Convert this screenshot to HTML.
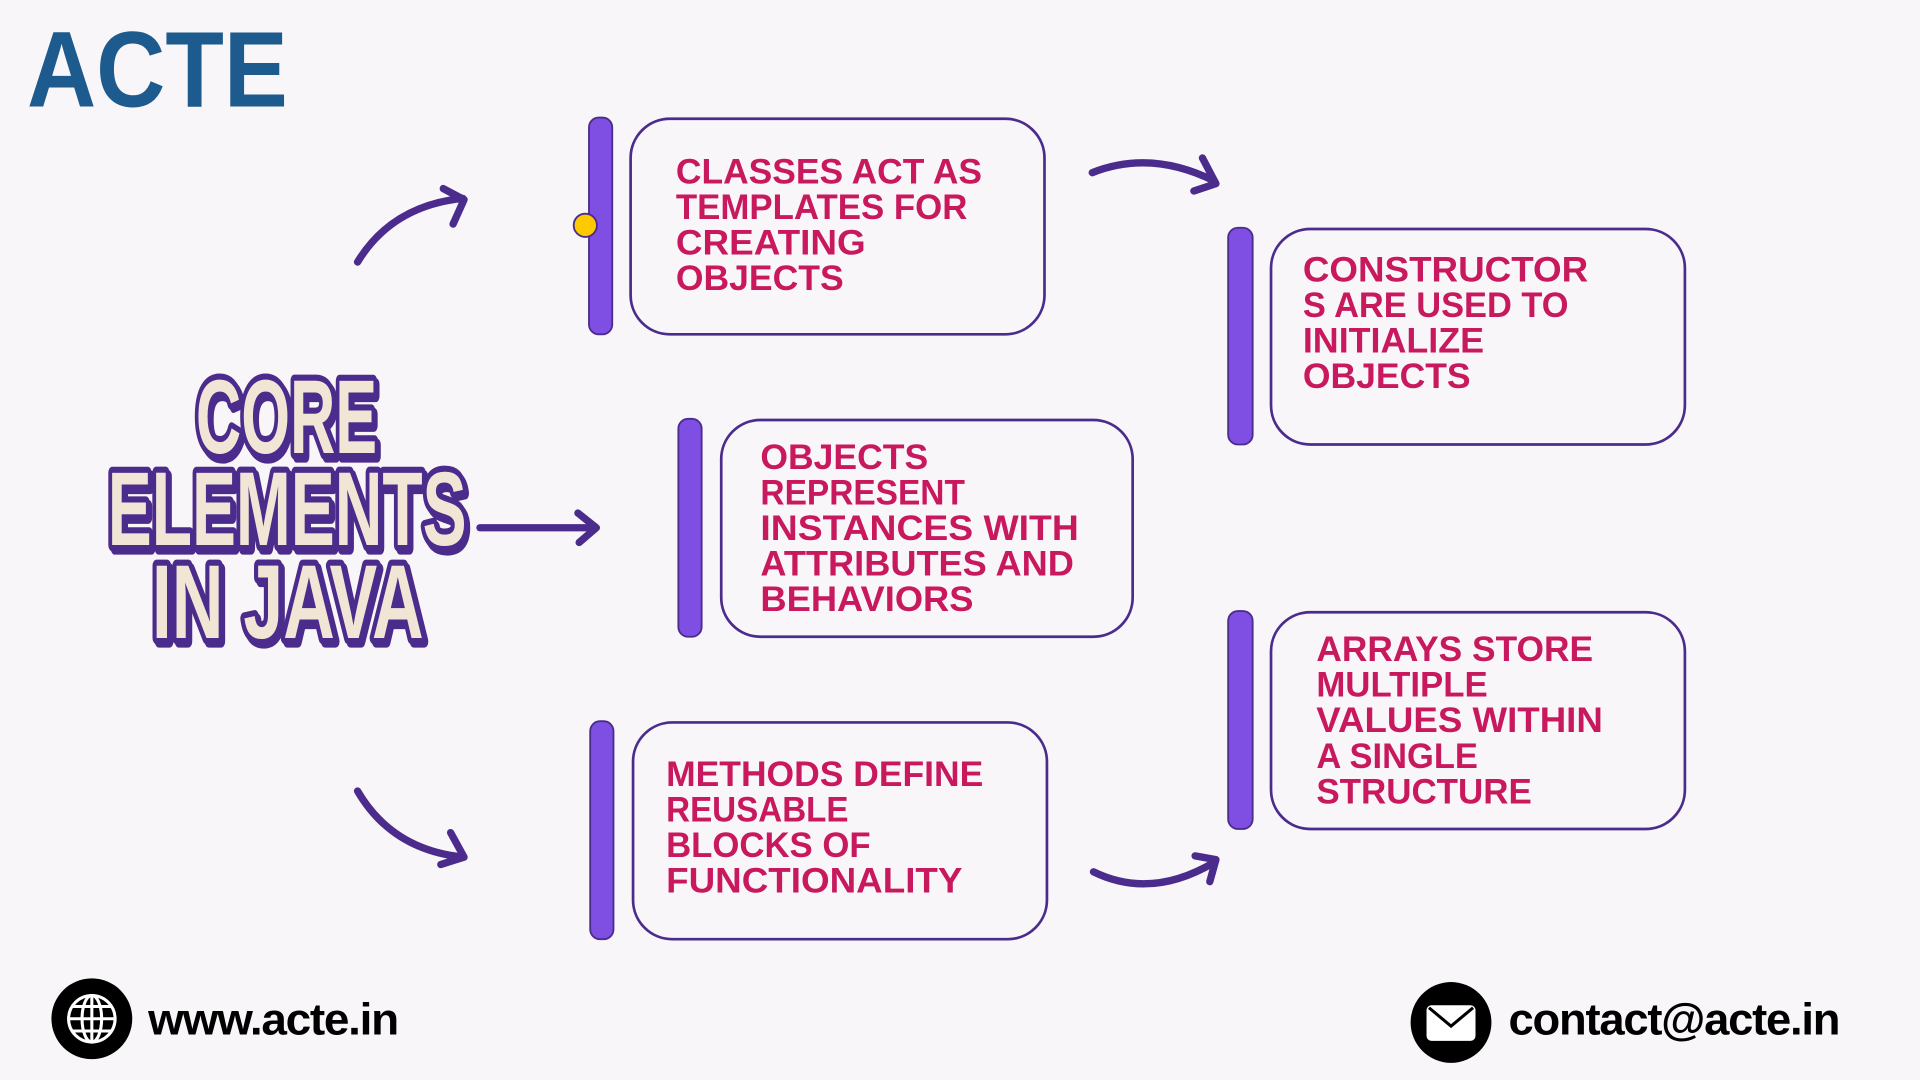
<!DOCTYPE html>
<html><head><meta charset="utf-8"><style>
html,body{margin:0;padding:0;background:#f8f6f8;width:1920px;height:1080px;overflow:hidden}
svg{display:block}
.t{font-family:"Liberation Sans",sans-serif;font-weight:bold;font-size:29px;fill:#c8185e}
.ti{font-family:"Liberation Sans",sans-serif;font-weight:bold;font-size:86px;fill:#f1e6d6;stroke:#4b2c8c;stroke-width:10;paint-order:stroke;stroke-linejoin:round}
.tis{font-family:"Liberation Sans",sans-serif;font-weight:bold;font-size:86px;fill:#4b2c8c;stroke:#4b2c8c;stroke-width:10;stroke-linejoin:round}
.box{fill:none;stroke:#4b2c8c;stroke-width:2.2}
.bar{fill:#7f4ee3;stroke:#4b2c8c;stroke-width:1.5}
.ar{fill:none;stroke:#4b2c8c;stroke-width:6;stroke-linecap:round;stroke-linejoin:round}
.ft{font-family:"Liberation Sans",sans-serif;font-weight:bold;font-size:36px;fill:#000;letter-spacing:-1px}
</style></head><body>
<svg width="1920" height="1080" viewBox="0 0 1568 882" xmlns="http://www.w3.org/2000/svg">
<rect width="1568" height="882" fill="#f8f6f8"/>
<text x="22" y="87" font-family="Liberation Sans,sans-serif" font-weight="bold" font-size="88" fill="#1d5a8e" textLength="213" lengthAdjust="spacingAndGlyphs">ACTE</text>

<!-- title -->
<text class="tis" x="162" y="373" textLength="148" lengthAdjust="spacingAndGlyphs">CORE</text>
<text class="tis" x="90" y="448" textLength="293" lengthAdjust="spacingAndGlyphs">ELEMENTS</text>
<text class="tis" x="126" y="524" textLength="222" lengthAdjust="spacingAndGlyphs">IN JAVA</text>
<text class="ti" x="160" y="370" textLength="148" lengthAdjust="spacingAndGlyphs">CORE</text>
<text class="ti" x="88" y="445" textLength="293" lengthAdjust="spacingAndGlyphs">ELEMENTS</text>
<text class="ti" x="124" y="521" textLength="222" lengthAdjust="spacingAndGlyphs">IN JAVA</text>

<!-- boxes -->
<rect class="bar" x="481" y="96" width="19" height="177" rx="8"/>
<rect class="box" x="515" y="97" width="338" height="176" rx="32"/>
<circle cx="478" cy="184" r="9.5" fill="#ffc900" stroke="#4b2c8c" stroke-width="1.5"/>
<text class="t" x="552" y="150" textLength="250" lengthAdjust="spacingAndGlyphs">CLASSES ACT AS</text>
<text class="t" x="552" y="179" textLength="238" lengthAdjust="spacingAndGlyphs">TEMPLATES FOR</text>
<text class="t" x="552" y="208" textLength="155" lengthAdjust="spacingAndGlyphs">CREATING</text>
<text class="t" x="552" y="237" textLength="137" lengthAdjust="spacingAndGlyphs">OBJECTS</text>

<rect class="bar" x="554" y="342" width="19" height="178" rx="8"/>
<rect class="box" x="589" y="343" width="336" height="177" rx="32"/>
<text class="t" x="621" y="383" textLength="137" lengthAdjust="spacingAndGlyphs">OBJECTS</text>
<text class="t" x="621" y="412" textLength="167" lengthAdjust="spacingAndGlyphs">REPRESENT</text>
<text class="t" x="621" y="441" textLength="260" lengthAdjust="spacingAndGlyphs">INSTANCES WITH</text>
<text class="t" x="621" y="470" textLength="256" lengthAdjust="spacingAndGlyphs">ATTRIBUTES AND</text>
<text class="t" x="621" y="499" textLength="174" lengthAdjust="spacingAndGlyphs">BEHAVIORS</text>

<rect class="bar" x="482" y="589" width="19" height="178" rx="8"/>
<rect class="box" x="517" y="590" width="338" height="177" rx="32"/>
<text class="t" x="544" y="642" textLength="259" lengthAdjust="spacingAndGlyphs">METHODS DEFINE</text>
<text class="t" x="544" y="671" textLength="149" lengthAdjust="spacingAndGlyphs">REUSABLE</text>
<text class="t" x="544" y="700" textLength="167" lengthAdjust="spacingAndGlyphs">BLOCKS OF</text>
<text class="t" x="544" y="729" textLength="242" lengthAdjust="spacingAndGlyphs">FUNCTIONALITY</text>

<rect class="bar" x="1003" y="186" width="20" height="177" rx="8"/>
<rect class="box" x="1038" y="187" width="338" height="176" rx="32"/>
<text class="t" x="1064" y="230" textLength="233" lengthAdjust="spacingAndGlyphs">CONSTRUCTOR</text>
<text class="t" x="1064" y="259" textLength="217" lengthAdjust="spacingAndGlyphs">S ARE USED TO</text>
<text class="t" x="1064" y="288" textLength="148" lengthAdjust="spacingAndGlyphs">INITIALIZE</text>
<text class="t" x="1064" y="317" textLength="137" lengthAdjust="spacingAndGlyphs">OBJECTS</text>

<rect class="bar" x="1003" y="499" width="20" height="178" rx="8"/>
<rect class="box" x="1038" y="500" width="338" height="177" rx="32"/>
<text class="t" x="1075" y="540" textLength="226" lengthAdjust="spacingAndGlyphs">ARRAYS STORE</text>
<text class="t" x="1075" y="569" textLength="140" lengthAdjust="spacingAndGlyphs">MULTIPLE</text>
<text class="t" x="1075" y="598" textLength="234" lengthAdjust="spacingAndGlyphs">VALUES WITHIN</text>
<text class="t" x="1075" y="627" textLength="132" lengthAdjust="spacingAndGlyphs">A SINGLE</text>
<text class="t" x="1075" y="656" textLength="176" lengthAdjust="spacingAndGlyphs">STRUCTURE</text>

<!-- arrows -->
<path class="ar" d="M292 214 Q320 168 378 162" stroke-width="5"/>
<path class="ar" d="M362 154 L379 163 L370 183"/>
<path class="ar" d="M392 431 L486 431"/>
<path class="ar" d="M472 419 L487 431 L473 443"/>
<path class="ar" d="M292 646 Q320 694 378 700" stroke-width="5"/>
<path class="ar" d="M368 680 L379 700 L360 706"/>
<path class="ar" d="M892 141 Q940 122 992 148"/>
<path class="ar" d="M982 129 L993 150 L975 156"/>
<path class="ar" d="M893 712 Q940 735 992 704"/>
<path class="ar" d="M976 699 L993 702 L988 720"/>

<!-- footer -->
<circle cx="75" cy="832" r="33" fill="#000"/>
<g fill="none" stroke="#fff" stroke-width="2.5">
<circle cx="75" cy="832" r="19"/>
<ellipse cx="75" cy="832" rx="8" ry="19"/>
<line x1="56" y1="832" x2="94" y2="832"/><line x1="75" y1="813" x2="75" y2="851"/>
<line x1="59" y1="822" x2="91" y2="822"/><line x1="59" y1="842" x2="91" y2="842"/>
</g>
<text class="ft" x="121" y="845" textLength="204" lengthAdjust="spacingAndGlyphs">www.acte.in</text>
<circle cx="1185" cy="835" r="33" fill="#000"/>
<rect x="1165" y="821" width="40" height="29" rx="4" fill="#fff"/>
<path d="M1167 823 L1185 838 L1203 823" fill="none" stroke="#000" stroke-width="2.5"/>
<text class="ft" x="1232" y="845" textLength="270" lengthAdjust="spacingAndGlyphs">contact@acte.in</text>
</svg>
</body></html>
